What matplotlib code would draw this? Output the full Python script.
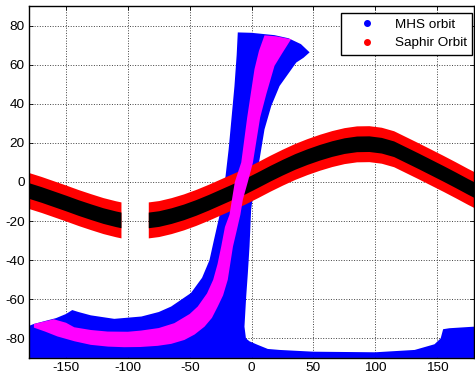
import matplotlib
matplotlib.use('Agg')
import numpy as np
import matplotlib.pyplot as plt
from matplotlib.lines import Line2D

plt.rcParams['font.family'] = ['Liberation Sans', 'DejaVu Sans']
plt.rcParams['axes.unicode_minus'] = False

# --- Saphir swath: centre line of the track (lon, lat), two pieces with a gap ---
saphir_west_lon = [-180, -170, -160, -150, -140, -130, -120, -110, -105.6]
saphir_west_lat = [-4.4, -6.4, -8.6, -10.8, -13.1, -15.2, -17.2, -18.8, -19.4]
saphir_east_lon = [-83.5, -75, -65, -55, -45, -35, -25, -15, -5, 5, 15, 25, 35, 45, 55, 65,
                   75, 85, 95, 105, 115, 125, 135, 145, 155, 165, 175, 180]
saphir_east_lat = [-19.4, -18.7, -17.2, -15.3, -13, -10.4, -7.6, -4.8, -2, 1.2, 4.5, 7.6,
                   10.5, 13, 15.2, 17.1, 18.6, 19.5, 19.6, 18.8, 17, 13.9, 10.8, 7.6, 4.4,
                   1.1, -2.3, -3.9]
saphir_half = 9.2   # half width of the red swath (deg lat)
saphir_core = 4.0   # half width of the black centre

# --- MHS swath: outline of the covered area ---
mhs_lon = [-180, -180, -176, -158, -150, -145, -140, -130, -111, -89, -75, -65, -49, -40,
           -34, -30.5, -26, -22.5, -21, -18.5, -17.5, -13.8, -12, -11.1,
           0, 18.6, 30, 40, 47,
           42, 36.2, 22.7, 16, 10.5, 6.5, 2, -0.3, -1.6, -3, -4.3, -5.7, -4.5, -1.6,
           5, 13.2, 22.7, 50, 100, 132, 148, 153, 155, 160, 180, 180]
mhs_lat = [-90, -73.6, -72.6, -69.6, -67.5, -65.5, -66.5, -68.2, -70, -68.8, -66.5, -63.7, -56.8, -49,
           -40, -30, -17.5, -3, 3, 16.7, 23.5, 49, 65, 76.5,
           76.3, 75.1, 73.5, 70.5, 66.3,
           63.5, 61.1, 49.1, 38.9, 26.9, 11.5, -3, -14.1, -32.9, -47, -58.6, -74, -80, -81.5,
           -83.3, -85.4, -85.9, -86.8, -87.1, -85.9, -83, -80, -75.3, -74.8, -74, -90]

# --- MHS inner part (magenta) ---
mhs_inner_lon = [-176, -160, -150, -143.4, -130, -116.4, -100, -89.4, -75, -62.4, -50, -43.5,
                 -36, -31, -27.5, -24.5, -21.5, -17.8, -13.5, -8.3, -3.5, 2.4, 6, 10.5,
                 20, 32,
                 25, 18.6, 12, 7, 1.1, -3, -7, -9, -12, -15, -19.2, -23, -27.3, -32, -38,
                 -46, -54.3, -65, -75.9, -90, -103, -116, -130, -143, -157, -167, -176]
mhs_inner_lat = [-72.6, -70.2, -72, -74.3, -75.7, -76.5, -76.6, -76, -74.7, -72.2, -67.5, -63.7,
                 -57, -50, -42, -33, -23, -16.7, 0, 10, 33, 57.7, 67, 75,
                 74.5, 73,
                 66, 59.4, 45, 33, 9.8, 0, -9, -16.7, -25, -33, -50, -58, -63.7, -69.5, -74,
                 -78, -80.8, -82.8, -83.8, -84.4, -84.5, -84.2, -83.3, -81.5, -79, -76.5, -74.5]

fig = plt.figure(figsize=(4.75, 3.76), dpi=100)
ax = fig.add_axes([0.061, 0.048, 0.937, 0.936])

# MHS swath (blue)
ax.fill(mhs_lon, mhs_lat, color='#0000ff', lw=0, zorder=2)

# Saphir swath (red) with black centre
for lon, lat in [(saphir_west_lon, saphir_west_lat), (saphir_east_lon, saphir_east_lat)]:
    lat = np.array(lat)
    ax.fill_between(lon, lat - saphir_half, lat + saphir_half, color='#ff0000', lw=0, zorder=3)
    ax.fill_between(lon, lat - saphir_core, lat + saphir_core, color='k', lw=0, zorder=4)

# MHS inner part (magenta) on top
ax.fill(mhs_inner_lon, mhs_inner_lat, color='#ff00ff', lw=0, zorder=5)

ax.set_xlim(-180, 180)
ax.set_ylim(-90, 90)
ax.set_xticks([-150, -100, -50, 0, 50, 100, 150])
ax.set_yticks([-80, -60, -40, -20, 0, 20, 40, 60, 80])
ax.tick_params(direction='in', top=True, right=True, length=3, width=0.6,
               labelsize=9.7, pad=3, colors='k')
ax.set_axisbelow(True)
ax.grid(True, color='0.25', linestyle=':', linewidth=0.7)
for s in ax.spines.values():
    s.set_linewidth(1.0)
    s.set_zorder(6)

handles = [
    Line2D([], [], ls='none', marker='o', ms=4, color='#0000ff', label='MHS orbit'),
    Line2D([], [], ls='none', marker='o', ms=4, color='#ff0000', label='Saphir Orbit'),
]
leg = ax.legend(handles=handles, loc='upper right', bbox_to_anchor=(472 / 475, 1 - 13 / 376),
                bbox_transform=fig.transFigure, borderaxespad=0, fontsize=9.7,
                fancybox=False, framealpha=1, edgecolor='k', handlelength=3,
                handletextpad=0.55, labelspacing=0.45, borderpad=0.4)
leg.get_frame().set_linewidth(1.0)
leg.set_zorder(10)

plt.savefig('out.png', dpi=100)
